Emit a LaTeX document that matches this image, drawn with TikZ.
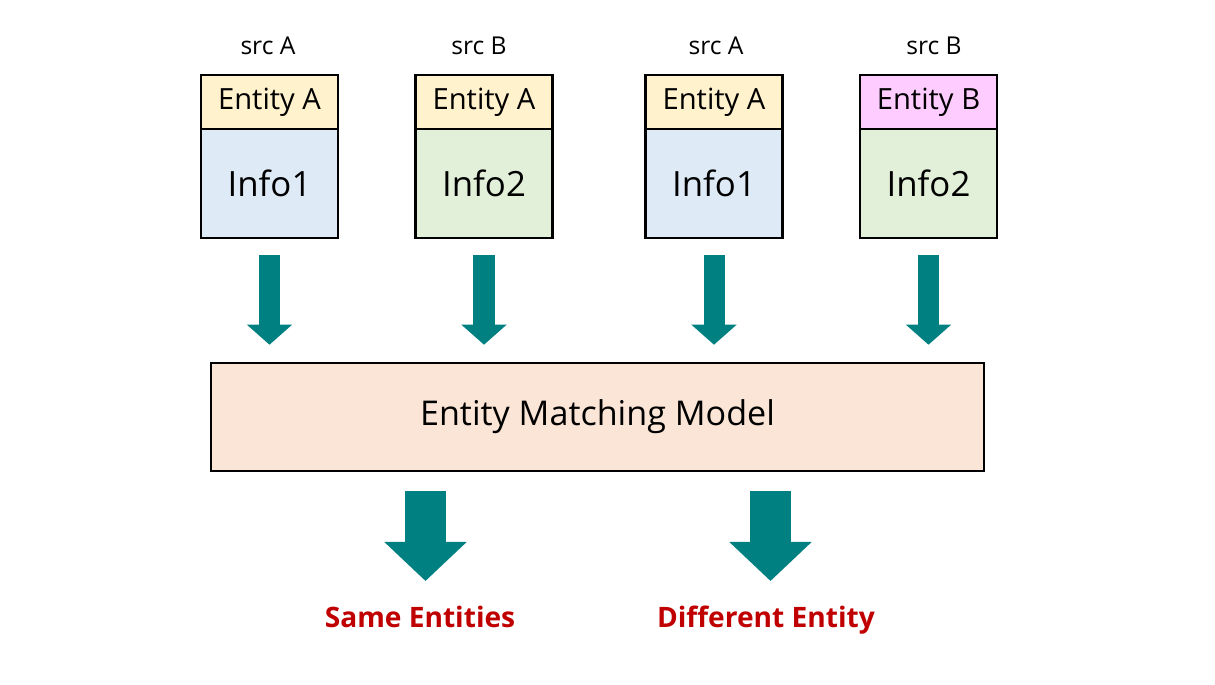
\documentclass[tikz,border=0pt]{standalone}
\usepackage{fontspec}
\setmainfont{Open Sans}
\usetikzlibrary{arrows.meta}
\definecolor{headyellow}{HTML}{FFF2CC}
\definecolor{headpink}{HTML}{FFCCFF}
\definecolor{infoblue}{HTML}{DEEBF7}
\definecolor{infogreen}{HTML}{E2F0D9}
\definecolor{modelfill}{HTML}{FBE5D6}
\definecolor{arrowteal}{HTML}{008080}
\definecolor{resultred}{HTML}{C00000}

\begin{document}
\begin{tikzpicture}[x=0.01cm, y=-0.01cm,
    head/.style={draw, line width=0.6pt, minimum width=1.37cm, minimum height=0.54cm, inner sep=0pt, font=\fontsize{8.3}{10}\selectfont},
    info/.style={draw, line width=0.6pt, minimum width=1.37cm, minimum height=1.09cm, inner sep=0pt, font=\fontsize{9.9}{12}\selectfont},
    srclabel/.style={font=\fontsize{7}{8}\selectfont},
    smallarrow/.style={line width=0.21cm, arrowteal, -{Triangle[width=0.44cm, length=0.20cm]}, shorten <=0.16cm, shorten >=0.17cm},
    bigarrow/.style={line width=0.40cm, arrowteal, -{Triangle[width=0.80cm, length=0.39cm]}, shorten <=0.19cm},
    result/.style={anchor=base, text=resultred, font=\bfseries\fontsize{8}{10}\selectfont}]
    \useasboundingbox (0,0) rectangle (1215,684);

    % Sources
    \node[srclabel] (src1) at (268,46) {src A};
    \node[head, fill=headyellow] (head1) at (269.5,102) {Entity A};
    \node[info, fill=infoblue] (info1) at (269.5,183.5) {Info1};

    \node[srclabel] (src2) at (479,46) {src B};
    \node[head, fill=headyellow] (head2) at (484,102) {Entity A};
    \node[info, fill=infogreen] (info2) at (484,183.5) {Info2};

    \node[srclabel] (src3) at (716,46) {src A};
    \node[head, fill=headyellow] (head3) at (714,102) {Entity A};
    \node[info, fill=infoblue] (info3) at (714,183.5) {Info1};

    \node[srclabel] (src4) at (934,46) {src B};
    \node[head, fill=headpink] (head4) at (928.5,102) {Entity B};
    \node[info, fill=infogreen] (info4) at (928.5,183.5) {Info2};

    % Model
    \node[draw, line width=0.7pt, fill=modelfill, minimum width=7.73cm, minimum height=1.08cm,
          font=\fontsize{9.7}{12}\selectfont] (model) at (597.5,417) {Entity Matching Model};

    % Inputs
    \draw[smallarrow] (info1.south) -- (info1.south |- model.north);
    \draw[smallarrow] (info2.south) -- (info2.south |- model.north);
    \draw[smallarrow] (info3.south) -- (info3.south |- model.north);
    \draw[smallarrow] (info4.south) -- (info4.south |- model.north);

    % Results
    \node[result] (same) at (420,627) {Same Entities};
    \node[result] (diff) at (766,627) {Different Entity};
    \coordinate (sametip) at (425.5,581);
    \coordinate (difftip) at (770.5,581);
    \draw[bigarrow] (model.south -| sametip) -- (sametip);
    \draw[bigarrow] (model.south -| difftip) -- (difftip);

\end{tikzpicture}
\end{document}
